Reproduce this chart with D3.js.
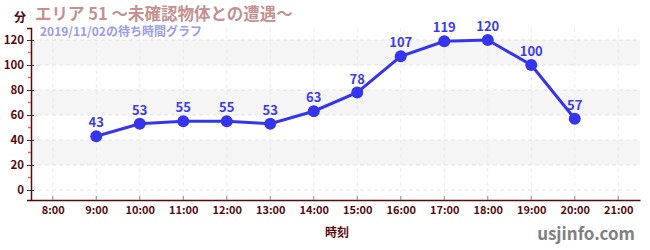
<!DOCTYPE html>
<html><head><meta charset="utf-8">
<script src="https://cdn.jsdelivr.net/npm/d3@7"></script>
<style>body{margin:0;background:#fff}svg{display:block}text{font-family:"Noto Sans CJK JP","Noto Sans",sans-serif}</style>
</head><body>
<svg id="c" width="650" height="250"></svg>
<script>
const hours = [9,10,11,12,13,14,15,16,17,18,19,20];
const waits = [43,53,55,55,53,63,78,107,119,120,100,57];
const xTicks = [8,9,10,11,12,13,14,15,16,17,18,19,20,21];
const yTicks = [0,20,40,60,80,100,120];
const title = "エリア 51 〜未確認物体との遭遇〜";
const subtitle = "2019/11/02の待ち時間グラフ";

const svg = d3.select("#c");
const L=31,R=640,T=28,B=200;
const x = d3.scaleLinear().domain([7.5,21.5]).range([L,R]);
const y = d3.scaleLinear().domain([-8,129.6]).range([B,T]);

// bands
[[100,120],[60,80],[20,40]].forEach(([a,b])=>{
  svg.append("rect").attr("x",L).attr("width",R-L).attr("y",y(b)).attr("height",y(a)-y(b)).attr("fill","#f5f5f5");
});
// grid
svg.append("g").selectAll("line").data(yTicks).join("line")
  .attr("x1",L).attr("x2",R).attr("y1",d=>y(d)).attr("y2",d=>y(d))
  .attr("stroke","#e4e4e4").attr("stroke-dasharray","4,3");
svg.append("g").selectAll("line").data(xTicks).join("line")
  .attr("x1",d=>x(d)).attr("x2",d=>x(d)).attr("y1",T).attr("y2",B)
  .attr("stroke","#ececec").attr("stroke-dasharray","4,3");

// y axis
const yA = svg.append("g").attr("transform",`translate(${L},0)`)
  .call(d3.axisLeft(y).tickValues(yTicks).tickSize(4).tickPadding(3));
yA.select(".domain").attr("stroke","#5a0a0a").attr("stroke-width",1.5);
yA.selectAll(".tick line").attr("stroke","#333").attr("x2",3).attr("x1",-4);
yA.selectAll("text").attr("fill","#5a0a0a").attr("font-size",11.5).attr("font-weight","bold");
svg.append("g").selectAll("line").data([10,30,50,70,90,110]).join("line")
  .attr("x1",L-3).attr("x2",L).attr("y1",d=>y(d)).attr("y2",d=>y(d)).attr("stroke","#e06060").attr("stroke-width",1.5);

// x axis
const xA = svg.append("g").attr("transform",`translate(0,${B})`)
  .call(d3.axisBottom(x).tickValues(xTicks).tickFormat(d=>d+":00").tickSize(0).tickPadding(6));
xA.select(".domain").attr("stroke","#5a0a0a").attr("stroke-width",1.5);
xA.selectAll("text").attr("fill","#5a0a0a").attr("font-size",11).attr("font-weight","bold");
svg.append("g").selectAll("line").data(xTicks).join("line")
  .attr("x1",d=>x(d)).attr("x2",d=>x(d)).attr("y1",B-4).attr("y2",B).attr("stroke","#888");

// line
svg.append("path").datum(hours.map((h,i)=>[h,waits[i]]))
  .attr("d",d3.line().x(d=>x(d[0])).y(d=>y(d[1])))
  .attr("fill","none").attr("stroke","#3535ee").attr("stroke-width",3);
svg.append("g").selectAll("circle").data(waits).join("circle")
  .attr("cx",(d,i)=>x(hours[i])).attr("cy",d=>y(d)).attr("r",6).attr("fill","#3535ee");
svg.append("g").selectAll("text").data(waits).join("text")
  .attr("x",(d,i)=>x(hours[i])).attr("y",d=>y(d)-9).attr("text-anchor","middle")
  .attr("fill","#3b3bef").attr("font-size",13).attr("font-weight","bold").text(d=>d);

// titles
svg.append("text").attr("x",14).attr("y",22).attr("fill","#4a0a0a").attr("font-size",12).attr("font-weight","bold").text("分");
svg.append("text").attr("x",35).attr("y",20).attr("fill","#c49090").attr("font-size",16.5).attr("font-weight","bold").text(title);
svg.append("text").attr("x",40).attr("y",35.5).attr("fill","#9a9af0").attr("font-size",12).attr("font-weight","bold").text(subtitle);
svg.append("text").attr("x",337).attr("y",237).attr("text-anchor","middle").attr("fill","#5a0a0a").attr("font-size",12).attr("font-weight","bold").text("時刻");
svg.append("text").attr("x",635).attr("y",240).attr("text-anchor","end").attr("fill","#808080").attr("font-size",17).attr("font-weight","bold").text("usjinfo.com");
</script>
</body></html>
